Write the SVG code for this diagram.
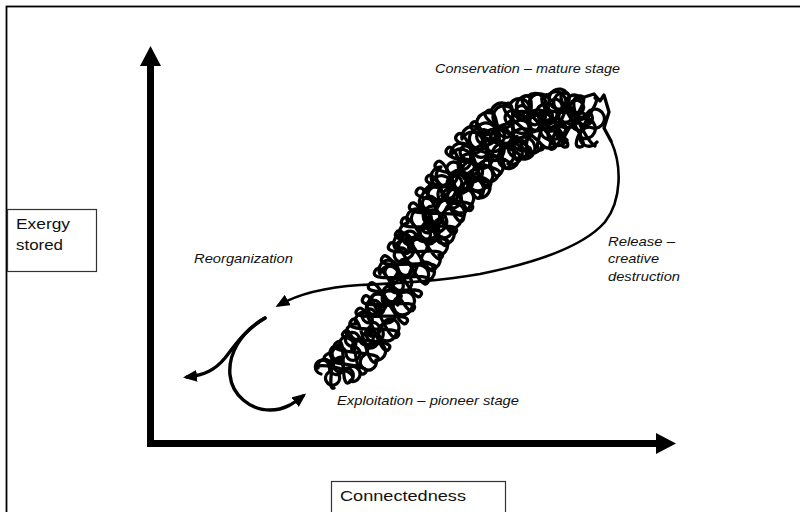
<svg xmlns="http://www.w3.org/2000/svg" width="800" height="512" viewBox="0 0 800 512">
<style>
.lab{font-family:"Liberation Sans",Arial,sans-serif;font-size:13px;font-style:italic;fill:#111}
.box{font-family:"Liberation Sans",Arial,sans-serif;font-size:15.5px;fill:#111}
.scr{fill:none;stroke:#000;stroke-width:3.3;stroke-linecap:round;stroke-linejoin:round}
.cur{fill:none;stroke:#000;stroke-linecap:round}
</style>
<defs>
<marker id="ah" markerUnits="userSpaceOnUse" viewBox="0 0 14 12" refX="10" refY="6" markerWidth="14" markerHeight="12" orient="auto"><path d="M0,0 L14,6 L0,12 z" fill="#000"/></marker>
</defs>
<rect width="800" height="512" fill="#fff"/>
<rect x="6.5" y="6.5" width="800" height="520" fill="none" stroke="#000" stroke-width="1.8"/>
<g id="axes">
<rect x="147" y="64" width="7" height="383" fill="#000"/>
<polygon points="150.5,46 140,66 161,66" fill="#000"/>
<rect x="147" y="440" width="511" height="7" fill="#000"/>
<polygon points="676,443.5 656,433 656,454" fill="#000"/>
</g>
<g id="node-exergy">
<rect x="7.5" y="209.5" width="89" height="62" fill="#fff" stroke="#333" stroke-width="1.2"/>
<text class="box" x="16" y="229" textLength="54" lengthAdjust="spacingAndGlyphs">Exergy</text>
<text class="box" x="16" y="250" textLength="47" lengthAdjust="spacingAndGlyphs">stored</text>
</g>
<g id="node-connectedness">
<rect x="331.5" y="481.5" width="174" height="40" fill="#fff" stroke="#333" stroke-width="1.2"/>
<text class="box" x="340" y="501" textLength="126" lengthAdjust="spacingAndGlyphs">Connectedness</text>
</g>
<g id="node-conservation">
<text class="lab" x="435" y="73" textLength="185" lengthAdjust="spacingAndGlyphs">Conservation – mature stage</text>
</g>
<g id="node-release">
<text class="lab" x="608" y="246" textLength="67" lengthAdjust="spacingAndGlyphs">Release –</text>
<text class="lab" x="608" y="263" textLength="51" lengthAdjust="spacingAndGlyphs">creative</text>
<text class="lab" x="608" y="281" textLength="72" lengthAdjust="spacingAndGlyphs">destruction</text>
</g>
<g id="node-reorganization">
<text class="lab" x="194" y="263" textLength="99" lengthAdjust="spacingAndGlyphs">Reorganization</text>
</g>
<g id="node-exploitation">
<text class="lab" x="337" y="405" textLength="182" lengthAdjust="spacingAndGlyphs">Exploitation – pioneer stage</text>
</g>
<g id="scribble">
<path class="scr" d="M316,366 C330,364 362.5,372.1 350,382 S349,330.6 336,343 S388.5,350 377,361 S361.6,306.4 351,321 S407.4,323 398,336 S371.3,282.2 363,298 S421.4,294.9 414,309 S383.3,255.2 375,271 S435.4,267.9 428,282 S397.3,229.2 389,245 S449.4,242.9 442,257 S410.3,204.2 402,220 S463.4,217.9 456,232 S426.7,174.9 417,190 S480.6,195.6 472,209 S446.8,148.6 436,163 S499.6,173.2 490,186 S469.4,122 457,135 S520,155.5 509,167 S501.9,100.9 487,111 S543.3,146 530,155 S542.3,90.8 525,96 S568.4,144.4 553,149 S583,93 565,93 S596,147 580,147 S605,98 595,98"/>
<path class="scr" d="M595,146 C585,140 563,96 580,96 S550,147 565,147 S528.7,99.9 545,95 S526.6,154.4 541,150 S491.9,113.5 506,104 S506.5,167.4 519,159 S460.3,135.2 472,123 S488.6,185.8 499,175 S436.8,162.6 447,149 S471,209 480,197 S417.8,191.3 427,177 S454.9,232.6 463,220 S402.2,220 410,205 S441.1,257.2 448,244 S388.2,248 396,233 S428.1,282.2 435,269 S374.2,273 382,258 S414.1,308.2 421,295 S361.2,300 369,285 S400.1,335.2 407,322 S347,323.8 357,310 S380.1,361.2 389,349 S331.8,343.7 344,332 S354.2,383.4 365,373 S312.7,365.5 326,355 S325,392 334,388"/>
<path class="scr" d="M318,368 a7 7 0 1 1 10.7 4.3 a7 7 0 1 0 10.7 4.3 a7 7 0 1 1 10.6 4.4
a7.5 7.5 0 1 0 -3.3 -11.7 a7.5 7.5 0 1 1 -3.3 -11.7 a7.5 7.5 0 1 1 -3.4 -11.6
a8 8 0 1 1 12 4.7 a8 8 0 1 1 12 4.7 a8 8 0 1 0 12 4.6
a8.5 8.5 0 1 0 -6.7 -12 a8.5 8.5 0 1 0 -6.7 -12 a8.5 8.5 0 1 1 -6.6 -12
a8.5 8.5 0 1 1 13.3 3.3 a8.5 8.5 0 1 0 13.3 3.3 a8.5 8.5 0 1 1 13.4 3.4
a9 9 0 1 1 -9 -11 a9 9 0 1 0 -9 -11 a9 9 0 1 0 -9 -11
a9 9 0 1 0 14.3 2 a9 9 0 1 1 14.3 2 a9 9 0 1 1 14.4 2
a9.5 9.5 0 1 1 -10.7 -11 a9.5 9.5 0 1 1 -10.7 -11 a9.5 9.5 0 1 0 -10.6 -11
a9.5 9.5 0 1 1 15.3 2.3 a9.5 9.5 0 1 0 15.3 2.3 a9.5 9.5 0 1 1 15.4 2.4
a9.5 9.5 0 1 0 -10.3 -11 a9.5 9.5 0 1 1 -10.3 -11 a9.5 9.5 0 1 0 -10.4 -11
a9.5 9.5 0 1 1 14.7 2.3 a9.5 9.5 0 1 1 14.7 2.3 a9.5 9.5 0 1 0 14.6 2.4
a9.5 9.5 0 1 0 -10.3 -10.7 a9.5 9.5 0 1 0 -10.3 -10.7 a9.5 9.5 0 1 1 -10.4 -10.6
a9.5 9.5 0 1 1 15 2.3 a9.5 9.5 0 1 0 15 2.3 a9.5 9.5 0 1 0 15 2.4
a10 10 0 1 1 -10 -12 a10 10 0 1 1 -10 -12 a10 10 0 1 0 -10 -12
a10 10 0 1 0 15.7 4 a10 10 0 1 1 15.7 4 a10 10 0 1 1 15.6 4
a10 10 0 1 1 -9.7 -13 a10 10 0 1 0 -9.7 -13 a10 10 0 1 1 -9.6 -13
a10.5 10.5 0 1 0 15.7 5.7 a10.5 10.5 0 1 0 15.7 5.7 a10.5 10.5 0 1 1 15.6 5.6
a11 11 0 1 1 -8.7 -15 a11 11 0 1 1 -8.7 -15 a11 11 0 1 0 -8.6 -15
a11 11 0 1 1 15.3 8.3 a11 11 0 1 0 15.3 8.3 a11 11 0 1 1 15.4 8.4
a11 11 0 1 0 -5.7 -17 a11 11 0 1 1 -5.7 -17 a11 11 0 1 1 -5.6 -17
a11 11 0 1 1 13 11.7 a11 11 0 1 0 13 11.7 a11 11 0 1 0 13 11.6
a11 11 0 1 1 -0.7 -17.3 a11 11 0 1 1 -0.7 -17.3 a11 11 0 1 0 -0.6 -17.4
a10.5 10.5 0 1 0 8.7 14.3 a10.5 10.5 0 1 1 8.7 14.3 a10.5 10.5 0 1 1 8.6 14.4
a10 10 0 1 1 4.3 -15.3 a10 10 0 1 0 4.3 -15.3 a10 10 0 1 1 4.4 -15.4
a10 10 0 1 0 5 15 a10 10 0 1 0 5 15 a10 10 0 1 1 5 15"/>
<path class="scr" d="M597,142 a9.5 9.5 0 1 1 -5 -14.3 a9.5 9.5 0 1 0 -5 -14.3 a9.5 9.5 0 1 1 -5 -14.4
a9 9 0 1 0 -5 13.7 a9 9 0 1 1 -5 13.7 a9 9 0 1 0 -5 13.6
a10 10 0 1 1 -6.7 -14.3 a10 10 0 1 1 -6.7 -14.3 a10 10 0 1 0 -6.6 -14.4
a10.5 10.5 0 1 0 -1.7 16 a10.5 10.5 0 1 0 -1.7 16 a10.5 10.5 0 1 1 -1.6 16
a10.5 10.5 0 1 1 -11 -12.7 a10.5 10.5 0 1 0 -11 -12.7 a10.5 10.5 0 1 0 -11 -12.6
a11 11 0 1 0 3.3 17 a11 11 0 1 1 3.3 17 a11 11 0 1 1 3.4 17
a10.5 10.5 0 1 1 -14.3 -9.7 a10.5 10.5 0 1 0 -14.3 -9.7 a10.5 10.5 0 1 1 -14.4 -9.6
a11 11 0 1 1 7.3 15.7 a11 11 0 1 1 7.3 15.7 a11 11 0 1 0 7.4 15.6
a10.5 10.5 0 1 0 -15.7 -6.7 a10.5 10.5 0 1 1 -15.7 -6.7 a10.5 10.5 0 1 0 -15.6 -6.6
a10.5 10.5 0 1 1 9.3 14 a10.5 10.5 0 1 0 9.3 14 a10.5 10.5 0 1 1 9.4 14
a10.5 10.5 0 1 0 -15.7 -5 a10.5 10.5 0 1 0 -15.7 -5 a10.5 10.5 0 1 1 -15.6 -5
a10 10 0 1 1 9.7 12.7 a10 10 0 1 1 9.7 12.7 a10 10 0 1 0 9.6 12.6
a10 10 0 1 0 -15.3 -3.3 a10 10 0 1 1 -15.3 -3.3 a10 10 0 1 1 -15.4 -3.4"/>
<path class="scr" d="M591,114 a7 7 0 1 1 -10 -1.3 a7 7 0 1 0 -10 -1.3 a7 7 0 1 1 -10 -1.4
a7 7 0 1 0 -10.7 1.3 a7 7 0 1 1 -10.7 1.3 a7 7 0 1 1 -10.6 1.4
a7 7 0 1 0 -10 5 a7 7 0 1 0 -10 5 a7 7 0 1 1 -10 5
a7 7 0 1 1 -8.3 7.3 a7 7 0 1 0 -8.3 7.3 a7 7 0 1 1 -8.4 7.4
a7 7 0 1 0 -6.7 8.3 a7 7 0 1 1 -6.7 8.3 a7 7 0 1 0 -6.6 8.4
a7 7 0 1 1 -6 8.3 a7 7 0 1 1 -6 8.3 a7 7 0 1 0 -6 8.4
a7 7 0 1 0 -5 9 a7 7 0 1 1 -5 9 a7 7 0 1 1 -5 9
a7 7 0 1 1 -4.3 8.3 a7 7 0 1 0 -4.3 8.3 a7 7 0 1 0 -4.4 8.4
a7 7 0 1 0 -4.7 8.7 a7 7 0 1 1 -4.7 8.7 a7 7 0 1 0 -4.6 8.6
a7 7 0 1 1 -4.3 9 a7 7 0 1 1 -4.3 9 a7 7 0 1 0 -4.4 9
a7 7 0 1 0 -5 8.3 a7 7 0 1 0 -5 8.3 a7 7 0 1 1 -5 8.4
a7 7 0 1 1 -6.7 7.7 a7 7 0 1 0 -6.7 7.7 a7 7 0 1 1 -6.6 7.6
a7 7 0 1 0 -8.3 6.7 a7 7 0 1 1 -8.3 6.7 a7 7 0 1 0 -8.4 6.6"/>
<path class="scr" d="M575,100 L594,94 L600,101 L604,95 L609,112 L604,128 L611,141"/>
</g>
<g id="connectors">
<path class="cur" stroke-width="2.6" marker-end="url(#ah)" d="M611,141 C622,165 622,200 605,222 C585,245 540,262 480,274 C440,281 400,283 360,285 C330,287 300,293 279,305"/>
<path class="cur" stroke-width="3.4" marker-end="url(#ah)" d="M265,318 C245,330 235,345 225,358 C215,370 205,375 187,377"/>
<path class="cur" stroke-width="3.4" marker-end="url(#ah)" d="M265,318 C240,332 228,355 230,375 C232,395 250,410 270,410 C285,410 294,403 303,396"/>
</g>
</svg>
